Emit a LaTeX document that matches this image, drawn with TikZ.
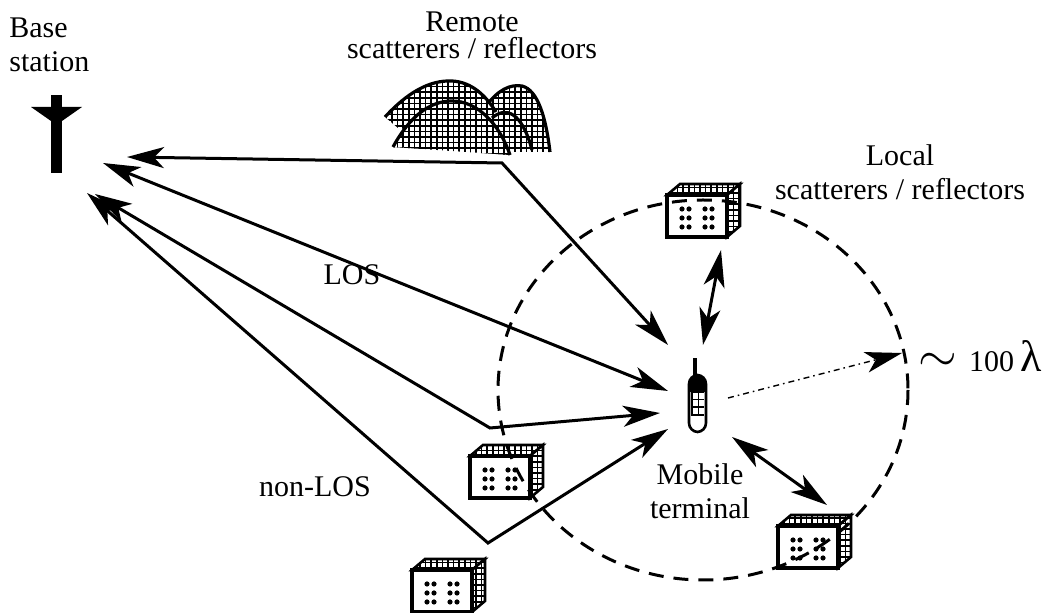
\documentclass[tikz,border=0pt]{standalone}
\usepackage{fontspec}
\setmainfont{Liberation Serif}
\usetikzlibrary{arrows.meta,patterns}

% fine square mesh used on hills and building sides
\pgfdeclarepatternformonly{mesh}{\pgfqpoint{-1pt}{-1pt}}{\pgfqpoint{3.8pt}{3.8pt}}{\pgfqpoint{2.8pt}{2.8pt}}{%
  \pgfsetlinewidth{0.8pt}%
  \pgfpathmoveto{\pgfqpoint{0pt}{0pt}}\pgfpathlineto{\pgfqpoint{2.9pt}{0pt}}%
  \pgfpathmoveto{\pgfqpoint{0pt}{0pt}}\pgfpathlineto{\pgfqpoint{0pt}{2.9pt}}%
  \pgfusepath{stroke}}

% a building: #1,#2 = lower left corner of the front face
\newcommand{\building}[2]{%
  \begin{scope}[shift={(#1,#2)}]
    \filldraw[meshface] (0,-42) -- (13,-53) -- (73,-53) -- (60,-42) -- cycle;
    \filldraw[meshface] (60,0) -- (60,-42) -- (73,-53) -- (73,-11) -- cycle;
    \filldraw[fill=white, line width=1.7pt] (0,0) rectangle (60,-42);
    \foreach \dx in {15,22,38,45}
      \foreach \dy in {-28,-19,-10}
        \fill (\dx,\dy) circle (1.3pt);
  \end{scope}}

\begin{document}
\begin{tikzpicture}[x=0.5pt,y=-0.5pt,
    >={Stealth[length=18.5pt,width=10.5pt,inset=5pt]},
    lbl/.style={font=\fontsize{15}{15}\selectfont, align=center, inner sep=0pt},
    ray/.style={line width=1.5pt},
    meshface/.style={line width=1.3pt, preaction={fill=white}, pattern=mesh},
    hill/.style={preaction={fill=white}, pattern=mesh},
    hilledge/.style={line width=1.6pt},
    rim/.style={line width=1.5pt, dash pattern=on 7.5pt off 5pt}]

  \useasboundingbox (0,0) rectangle (1056,613);

  % base station mast
  \fill (51,95) rectangle (62,173);
  \fill (31,107) -- (82,107) -- (62,121) -- (51,121) -- cycle;
  \node[lbl, anchor=north west, align=left] (bslabel) at (9,17) {Base\\[2pt]station};

  % remote hills
  \path[hill] (486,106) .. controls (498,90) and (510,84) .. (522,86)
    .. controls (538,90) and (546,118) .. (550,152) -- (500,152) -- cycle;
  \draw[hilledge] (486,106) .. controls (498,90) and (510,84) .. (522,86)
    .. controls (538,90) and (546,118) .. (550,152);
  \path[hill] (385,117) .. controls (408,92) and (430,80) .. (452,81)
    .. controls (472,82) and (486,96) .. (496,112) -- (470,140) -- (398,128) -- cycle;
  \draw[hilledge] (385,117) .. controls (408,92) and (430,80) .. (452,81)
    .. controls (472,82) and (486,96) .. (496,112);
  \draw[hilledge] (492,118) .. controls (506,106) and (522,112) .. (532,150);
  \path[hill] (393,147) .. controls (410,116) and (430,101) .. (452,101)
    .. controls (478,101) and (500,125) .. (510,155) -- cycle;
  \draw[hilledge] (393,147) .. controls (410,116) and (430,101) .. (452,101)
    .. controls (478,101) and (500,125) .. (510,155);
  \node[lbl, anchor=north, font=\fontsize{15}{13.5}\selectfont] (remote) at (472,11)
    {Remote\\scatterers / reflectors};

  % local buildings
  \building{667}{237}
  \building{470}{498}
  \building{412}{612}
  \building{778}{568}
  \node[lbl, anchor=north] (local) at (900,144) {Local\\[2pt]scatterers / reflectors};

  % mobile terminal
  \coordinate (mobile) at (697,404);
  \begin{scope}[shift={(mobile)}]
    \draw[line width=2.4pt] (-2,-27) -- (-2,-46);
    \fill[rounded corners=4pt] (-8,-29) rectangle (9,-14);
    \fill (-8,-20) rectangle (9,-12);
    \fill (-6,-14) rectangle (7,12);
    \foreach \c in {0,1}
      \foreach \r in {0,1,2}
        \fill[white] (-4+\c*6,-11+\r*7.5) rectangle ++(4.5,6);
    \draw[line width=1.3pt, rounded corners=4.5pt] (-8,-29) rectangle (9,28);
  \end{scope}
  \node[lbl, anchor=north] (mtlabel) at (700,463) {Mobile\\[2pt]terminal};

  % end points of the rays
  \coordinate (bsA) at (127,157);
  \coordinate (bsB) at (103,163);
  \coordinate (bsC) at (95,194);
  \coordinate (bsD) at (87,193);
  \coordinate (rem) at (502,163);
  \coordinate (bnc1) at (490,428);
  \coordinate (bnc2) at (488,543);
  \coordinate (mobA) at (668,345);
  \coordinate (mobB) at (668,391);
  \coordinate (mobC) at (660,413);
  \coordinate (mobD) at (668,429);

  % propagation paths
  \draw[ray, <->] (bsA) -- (rem) -- (mobA);
  \draw[ray, <->] (bsB) -- (mobB);
  \draw[ray, <->] (bsC) -- (bnc1) -- (mobC);
  \draw[ray, <->] (bsD) -- (bnc2) -- (mobD);
  \node[lbl] (los) at (352,275) {LOS};
  \node[lbl] (nlos) at (315,487) {non-LOS};

  % local scattering
  \draw[ray, <->] (721,250) -- (703,345);
  \draw[ray, <->] (732,437) -- (827,505);

  % local area
  \draw[rim] (703,390) ellipse [x radius=205, y radius=190];
  \coordinate (edge) at (902,353);
  \draw[line width=0.7pt, dash pattern=on 3pt off 2pt on 0.8pt off 2pt, ->] (728,398) -- (edge);
  \node[lbl, anchor=west] (radius) at (918,356)
    {{\fontsize{26}{26}\selectfont$\sim$}\hspace{6pt}100\hspace{3pt}{\fontsize{22}{22}\selectfont λ}};
\end{tikzpicture}
\end{document}
